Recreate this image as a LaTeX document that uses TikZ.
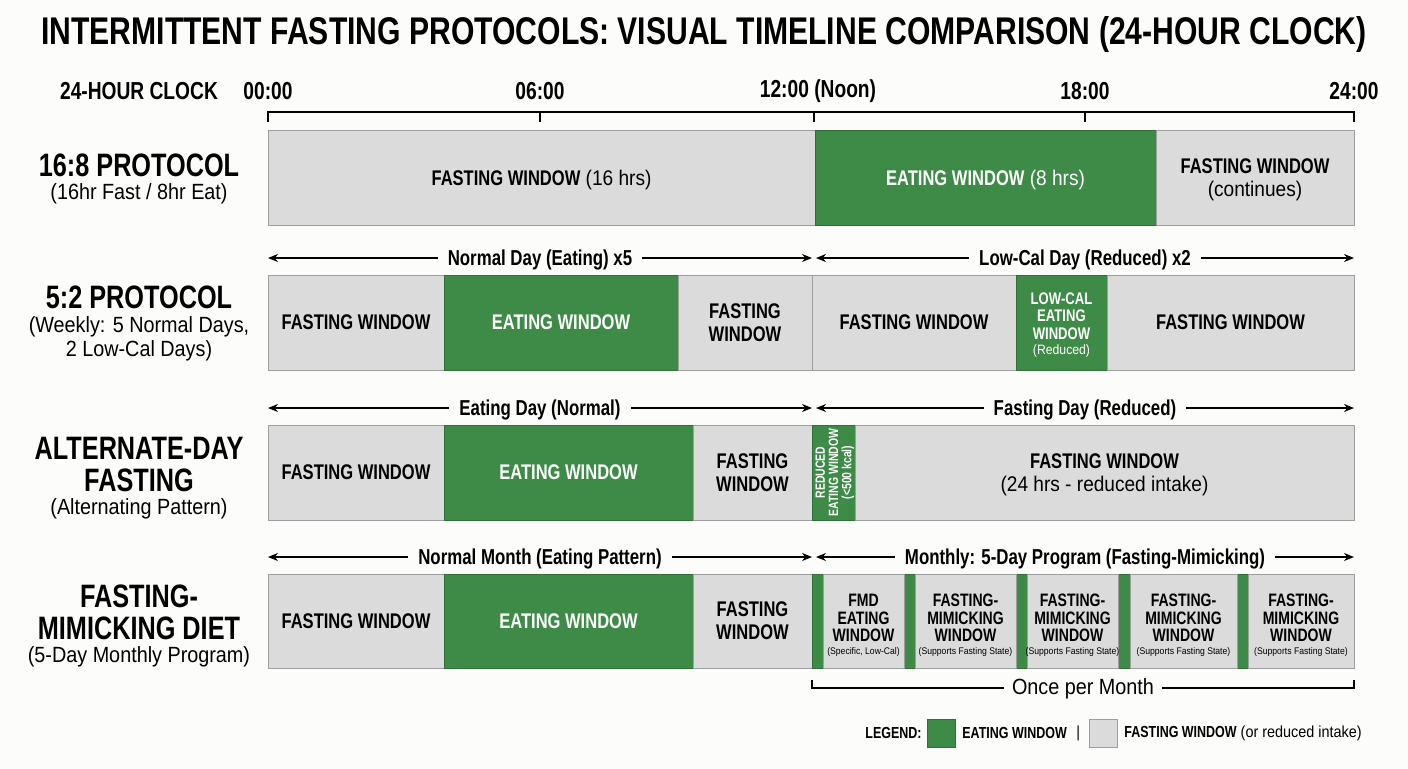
\documentclass[tikz,border=0pt]{standalone}
\usepackage{fontspec}
\setmainfont{Liberation Sans}[FakeStretch=0.9]
\newfontfamily\condfont{Liberation Sans}[FakeStretch=0.78]
\usetikzlibrary{arrows.meta}

\definecolor{eatgreen}{RGB}{61,139,70}
\definecolor{eatedge}{RGB}{48,112,56}
\definecolor{fastgray}{RGB}{219,219,219}
\definecolor{fastedge}{RGB}{158,158,158}
\definecolor{paper}{RGB}{252,252,251}

\newcommand\hb[1]{{\condfont\bfseries #1}}
\newcommand\segfont{\fontsize{10.6}{11.5}\selectfont}
% name, x1, x2, y1, y2, kind (fast/eat), text
\newcommand\seg[7]{%
  \draw[#6seg] (#2,#4) rectangle (#3,#5);
  \node[#6text] (#1) at ({(#2+#3)/2},{(#4+#5)/2}) {#7};
}

\begin{document}
\begin{tikzpicture}[x=0.5pt,y=-0.5pt]
  \tikzset{
    fastseg/.style={draw=fastedge, fill=fastgray, line width=0.5pt},
    eatseg/.style={draw=eatedge, fill=eatgreen, line width=0.5pt},
    fasttext/.style={align=center, text=black, text depth=0pt, font=\segfont},
    eattext/.style={align=center, text=white, text depth=0pt, font=\segfont},
    rowtitle/.style={align=center, font=\fontsize{16.2}{16}\selectfont\condfont\bfseries},
    rowsub/.style={align=center, font=\fontsize{11}{12}\selectfont},
    clocklbl/.style={font=\fontsize{12.3}{14}\selectfont\condfont\bfseries},
    spanlbl/.style={fill=paper, inner xsep=5pt, text depth=0pt, font=\fontsize{10.8}{12}\selectfont\condfont\bfseries},
    span/.style={{Stealth[length=5pt,width=4pt]}-{Stealth[length=5pt,width=4pt]}, line width=0.6pt},
    fmdtext/.style={align=center, font=\fontsize{9}{8.8}\selectfont\condfont\bfseries},
    tiny/.style={font=\fontsize{4.8}{5.5}\selectfont},
    legend/.style={anchor=west, inner sep=0pt, font=\fontsize{8}{9}\selectfont}
  }
  \fill[paper] (0,0) rectangle (1408,768);
  \useasboundingbox (0,0) rectangle (1408,768);

  % title
  \node[font=\fontsize{19.3}{22}\selectfont\condfont\bfseries] (title) at (704,35)
    {INTERMITTENT FASTING PROTOCOLS: VISUAL TIMELINE COMPARISON (24-HOUR CLOCK)};

  % clock axis
  \node[clocklbl] (clock) at (139,91) {24-HOUR CLOCK};
  \node[clocklbl] (h00) at (268,91) {00:00};
  \node[clocklbl] (h06) at (540,91) {06:00};
  \node[clocklbl] (h12) at (818,91) {12:00 (Noon)};
  \node[clocklbl] (h18) at (1085,91) {18:00};
  \node[clocklbl] (h24) at (1354,91) {24:00};
  \draw[line width=0.75pt] (268,122) -- (268,112) -- (1354,112) -- (1354,122);
  \foreach \x in {540,814,1085}
    \draw[line width=0.75pt] (\x,112) -- (\x,122);

  % 16:8
  \node[rowtitle] (r1t) at (139,165) {16:8 PROTOCOL};
  \node[rowsub] (r1s) at (139,194) {(16hr Fast / 8hr Eat)};
  \seg{r1a}{268}{815}{130}{225}{fast}{\hb{FASTING WINDOW} (16 hrs)}
  \seg{r1b}{815}{1156}{130}{225}{eat}{\hb{EATING WINDOW} (8 hrs)}
  \seg{r1c}{1156}{1354}{130}{225}{fast}{\hb{FASTING WINDOW}\\(continues)}

  % 5:2
  \draw[span] (268,258) -- node[spanlbl] {Normal Day (Eating) x5} (812,258);
  \draw[span] (816,258) -- node[spanlbl] {Low-Cal Day (Reduced) x2} (1354,258);
  \node[rowtitle] (r2t) at (139,297) {5:2 PROTOCOL};
  \node[rowsub] (r2s) at (139,339) {(Weekly: 5 Normal Days,\\2 Low-Cal Days)};
  \seg{r2a}{268}{444}{275}{370}{fast}{\hb{FASTING WINDOW}}
  \seg{r2b}{444}{678}{275}{370}{eat}{\hb{EATING WINDOW}}
  \seg{r2c}{678}{812}{275}{370}{fast}{\hb{FASTING}\\\hb{WINDOW}}
  \seg{r2d}{812}{1016}{275}{370}{fast}{\hb{FASTING WINDOW}}
  \draw[eatseg] (1016,275) rectangle (1107,370);
  \node[eattext, font=\fontsize{8.4}{8.8}\selectfont\condfont\bfseries] (r2e) at (1061.5,316) {LOW-CAL\\EATING\\WINDOW};
  \node[eattext, font=\fontsize{6.8}{8}\selectfont] (r2es) at (1061.5,350) {(Reduced)};
  \seg{r2f}{1107}{1354}{275}{370}{fast}{\hb{FASTING WINDOW}}

  % alternate-day
  \draw[span] (268,408) -- node[spanlbl] {Eating Day (Normal)} (812,408);
  \draw[span] (816,408) -- node[spanlbl] {Fasting Day (Reduced)} (1354,408);
  \node[rowtitle] (r3t) at (139,464) {ALTERNATE-DAY\\FASTING};
  \node[rowsub] (r3s) at (139,509) {(Alternating Pattern)};
  \seg{r3a}{268}{444}{425}{520}{fast}{\hb{FASTING WINDOW}}
  \seg{r3b}{444}{693}{425}{520}{eat}{\hb{EATING WINDOW}}
  \seg{r3c}{693}{812}{425}{520}{fast}{\hb{FASTING}\\\hb{WINDOW}}
  \draw[eatseg] (812,425) rectangle (855,520);
  \node[eattext, rotate=90, font=\fontsize{6.7}{6.6}\selectfont\condfont\bfseries] (r3d)
    at (833.5,472.5) {REDUCED\\EATING WINDOW\\(<500 kcal)};
  \seg{r3e}{855}{1354}{425}{520}{fast}{\hb{FASTING WINDOW}\\(24 hrs - reduced intake)}

  % fasting-mimicking diet
  \draw[span] (268,557) -- node[spanlbl] {Normal Month (Eating Pattern)} (812,557);
  \draw[span] (816,557) -- node[spanlbl] {Monthly: 5-Day Program (Fasting-Mimicking)} (1354,557);
  \node[rowtitle] (r4t) at (139,612) {FASTING-\\MIMICKING DIET};
  \node[rowsub] (r4s) at (139,657) {(5-Day Monthly Program)};
  \seg{r4a}{268}{444}{574}{668}{fast}{\hb{FASTING WINDOW}}
  \seg{r4b}{444}{693}{574}{668}{eat}{\hb{EATING WINDOW}}
  \seg{r4c}{693}{812}{574}{668}{fast}{\hb{FASTING}\\\hb{WINDOW}}
  \foreach \a/\b in {812/823, 904/915, 1016/1027, 1118/1130, 1237/1248}
    \draw[eatseg] (\a,574) rectangle (\b,668);
  \draw[fastseg] (823,574) rectangle (904,668);
  \node[fmdtext] (fmd1) at (863.5,618) {FMD\\EATING\\WINDOW};
  \node[tiny] (fmd1s) at (863.5,652) {(Specific, Low-Cal)};
  \foreach \a/\b [count=\i] in {915/1016, 1027/1118, 1130/1237, 1248/1354} {
    \draw[fastseg] (\a,574) rectangle (\b,668);
    \node[fmdtext] (fmd\i m) at ({(\a+\b)/2},618) {FASTING-\\MIMICKING\\WINDOW};
    \node[tiny] (fmd\i s) at ({(\a+\b)/2},652) {(Supports Fasting State)};
  }

  % once per month
  \draw[line width=0.6pt] (812,680) -- (812,688) -- (1354,688) -- (1354,680);
  \node[fill=paper, inner xsep=4pt, font=\fontsize{11}{12}\selectfont] (once) at (1083,689) {Once per Month};

  % legend
  \node[legend] (leg) at (865,733) {\hb{LEGEND:}};
  \draw[eatseg] (927,719) rectangle (955,747);
  \node[legend] (legeat) at (962,733) {\hb{EATING WINDOW}};
  \node[legend] (legbar) at (1076,733) {|};
  \draw[fastseg] (1089,719) rectangle (1117,747);
  \node[legend] (legfast) at (1124,733) {\hb{FASTING WINDOW} (or reduced intake)};
\end{tikzpicture}
\end{document}
